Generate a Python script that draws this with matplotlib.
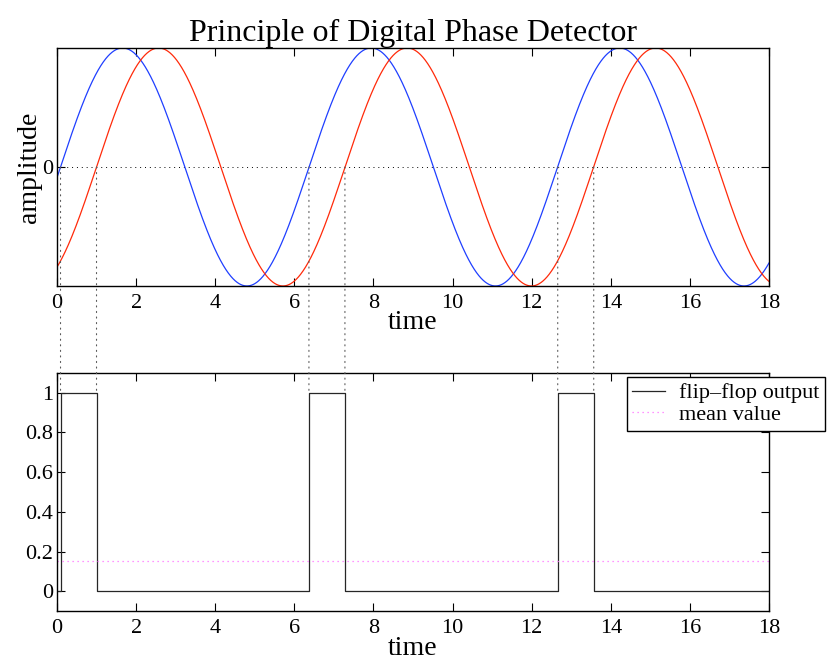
import numpy as np
import matplotlib
matplotlib.use("Agg")
import matplotlib.pyplot as plt
from matplotlib.patches import ConnectionPatch

# ---- data ----
t_range = [0, 18]
blue_phase = 0.09      # reference signal phase offset (rad)
red_phase = 1.00       # delayed signal phase offset (rad)
angular_freq = 1.0     # rad per time unit
rising_edges = [0.09, 6.37, 12.66]   # blue zero crossings (flip-flop set)
falling_edges = [1.00, 7.28, 13.57]  # red zero crossings (flip-flop reset)
ff_times = [0, 0.09, 1.00, 6.37, 7.28, 12.66, 13.57, 18]
ff_levels = [0, 1, 0, 1, 0, 1, 0, 0]
mean_value = 0.15
xticks = [0, 2, 4, 6, 8, 10, 12, 14, 16, 18]
yticks_bottom = [0, 0.2, 0.4, 0.6, 0.8, 1]
yticklabels_bottom = ["0", "0.2", "0.4", "0.6", "0.8", "1"]

plt.rcParams['font.family'] = ['Liberation Serif', 'DejaVu Serif']
plt.rcParams['axes.linewidth'] = 1.0

fig = plt.figure(figsize=(8.28, 6.62), dpi=100)
ax1 = fig.add_axes([0.0688, 0.5680, 0.8599, 0.3595])
ax2 = fig.add_axes([0.0688, 0.0770, 0.8599, 0.3596])

t = np.linspace(t_range[0], t_range[1], 2000)
ax1.plot(t, np.sin(angular_freq * t - blue_phase), color='#1f3fff', lw=0.9)
ax1.plot(t, np.sin(angular_freq * t - red_phase), color='#ff2a0a', lw=0.9)
ax1.set_xlim(*t_range)
ax1.set_ylim(-1, 1)
ax1.set_xticks(xticks)
ax1.set_yticks([0])
ax1.yaxis.grid(True, color='black', linestyle=(0, (1, 4)), lw=0.7)
ax1.set_title('Principle of Digital Phase Detector', fontsize=23, pad=5)
ax1.set_xlabel('time', fontsize=20, labelpad=-2.5)
ax1.set_ylabel('amplitude', fontsize=20, labelpad=0)

ax2.step(ff_times, ff_levels, where='post', color='0.15', lw=0.9,
         label='flip\u2013flop output')
ax2.plot(t_range, [mean_value, mean_value], color='#ff70ff',
         linestyle=(0, (1, 3)), lw=0.9, label='mean value')
ax2.set_xlim(*t_range)
ax2.set_ylim(-0.1, 1.1)
ax2.set_xticks(xticks)
ax2.set_yticks(yticks_bottom)
ax2.set_yticklabels(yticklabels_bottom)
ax2.set_xlabel('time', fontsize=20, labelpad=-2)

for ax in (ax1, ax2):
    ax.tick_params(direction='in', length=6, width=0.8, top=True, right=True,
                   labelsize=16)
    ax.tick_params(axis='x', pad=6)
    ax.tick_params(axis='y', pad=3)
    for s in ax.spines.values():
        s.set_linewidth(1.0)

leg = ax2.legend(loc='upper left', bbox_to_anchor=(0.80, 0.982), fontsize=16,
                 frameon=True, fancybox=False, edgecolor='black', framealpha=1,
                 borderaxespad=0, handlelength=1.5, handletextpad=0.6,
                 labelspacing=0.05, borderpad=0.25)
leg.get_frame().set_linewidth(1.0)
leg.set_clip_on(False)

for x in rising_edges + falling_edges:
    con = ConnectionPatch(xyA=(x, 0), coordsA='data', axesA=ax1,
                          xyB=(x, 1), coordsB='data', axesB=ax2,
                          color='0.35', linestyle=(0, (1, 4)), lw=0.8)
    fig.add_artist(con)

fig.savefig('out.png', dpi=100)
